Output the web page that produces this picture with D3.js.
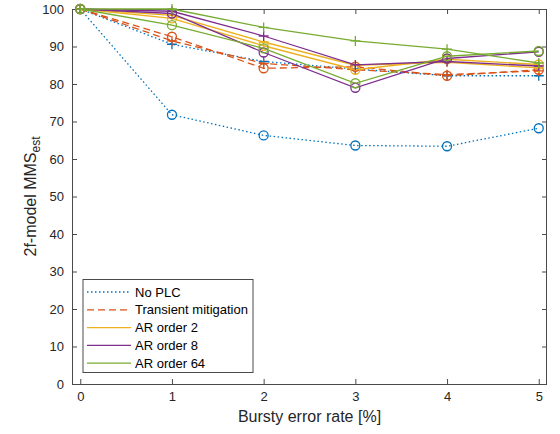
<!DOCTYPE html>
<html><head><meta charset="utf-8">
<script src="https://cdn.jsdelivr.net/npm/d3@7/dist/d3.min.js"></script>
<style>body{margin:0;background:#fff}svg{display:block;font-family:"Liberation Sans",Arial,sans-serif}</style>
</head><body><svg id="c" width="560" height="434"></svg>
<script>
const rates = [0, 1, 2, 3, 4, 5];
const xTicks = [0, 1, 2, 3, 4, 5];
const yTicks = [0, 10, 20, 30, 40, 50, 60, 70, 80, 90, 100];
const legendNames = ["No PLC", "Transient mitigation", "AR order 2", "AR order 8", "AR order 64"];
const noPLC_o = [100, 71.8, 66.3, 63.6, 63.4, 68.2];
const noPLC_p = [100, 90.6, 86.0, 84.0, 82.2, 82.2];
const trans_o = [100, 92.6, 84.2, 84.6, 82.2, 83.8];
const trans_p = [100, 91.5, 85.5, 83.8, 82.5, 83.5];
const ar2_o = [100, 97.5, 90.2, 83.8, 86.6, 85.2];
const ar2_p = [100, 98.3, 91.2, 85.0, 85.8, 84.3];
const ar8_o = [100, 98.8, 88.4, 79.0, 86.8, 88.6];
const ar8_p = [100, 99.4, 92.8, 85.1, 86.0, 84.8];
const ar64_o = [100, 95.7, 89.5, 80.2, 87.4, 88.8];
const ar64_p = [100, 100, 95.1, 91.5, 89.3, 85.6];

const colors = ["#0072BD", "#D95319", "#EDB120", "#7E2F8E", "#77AC30"];
const dashes = ["1.5,2.5", "7,4", null, null, null];
const series = [
  {v: noPLC_p, k: 0, m: "+"}, {v: noPLC_o, k: 0, m: "o"},
  {v: trans_p, k: 1, m: "+"}, {v: trans_o, k: 1, m: "o"},
  {v: ar2_p, k: 2, m: "+"}, {v: ar2_o, k: 2, m: "o"},
  {v: ar8_p, k: 3, m: "+"}, {v: ar8_o, k: 3, m: "o"},
  {v: ar64_p, k: 4, m: "+"}, {v: ar64_o, k: 4, m: "o"}
];

const L = 72, R = 547, T = 9, B = 384;
const svg = d3.select("#c");
const x = d3.scaleLinear().domain([-0.09, 5.09]).range([L, R]);
const y = d3.scaleLinear().domain([0, 100]).range([B, T]);
const ax = "#4a4a4a";

svg.append("rect").attr("x", L).attr("y", T).attr("width", R - L).attr("height", B - T)
  .attr("fill", "#fff");

const tl = 5;
const gx = svg.append("g").attr("transform", `translate(0,${B})`)
  .call(d3.axisBottom(x).tickValues(xTicks).tickSize(-tl).tickPadding(8).tickFormat(d3.format("d")));
const gxt = svg.append("g").attr("transform", `translate(0,${T})`)
  .call(d3.axisTop(x).tickValues(xTicks).tickSize(-tl).tickFormat(""));
const gy = svg.append("g").attr("transform", `translate(${L},0)`)
  .call(d3.axisLeft(y).tickValues(yTicks).tickSize(-tl).tickPadding(8).tickFormat(d3.format("d")));
const gyr = svg.append("g").attr("transform", `translate(${R},0)`)
  .call(d3.axisRight(y).tickValues(yTicks).tickSize(-tl).tickFormat(""));
[gx, gxt, gy, gyr].forEach(g => {
  g.select(".domain").attr("stroke", ax).attr("stroke-width", 1);
  g.selectAll(".tick line").attr("stroke", ax);
  g.selectAll("text").attr("fill", "#262626").style("font-size", "13px").style("font-family", '"Liberation Sans",Arial,sans-serif');
});
gx.select(".domain").attr("d", `M${L},0.5H${R}`);
gxt.select(".domain").attr("d", `M${L},0.5H${R}`);
gy.select(".domain").attr("d", `M0.5,${T}V${B}`);
gyr.select(".domain").attr("d", `M-0.5,${T}V${B}`);

const line = d3.line().x((d, i) => x(rates[i])).y(d => y(d));
const plot = svg.append("g");
series.forEach(s => {
  const c = colors[s.k];
  plot.append("path").attr("d", line(s.v)).attr("fill", "none").attr("stroke", c)
    .attr("stroke-width", 1.3).attr("stroke-dasharray", dashes[s.k]);
  s.v.forEach((d, i) => {
    const cx = x(rates[i]), cy = y(d);
    if (s.m === "o") {
      plot.append("circle").attr("cx", cx).attr("cy", cy).attr("r", 4.5)
        .attr("fill", "none").attr("stroke", c).attr("stroke-width", 1.3);
    } else {
      plot.append("path").attr("d", `M${cx - 5},${cy}H${cx + 5}M${cx},${cy - 5}V${cy + 5}`)
        .attr("stroke", c).attr("stroke-width", 1.3);
    }
  });
});

// axis labels
svg.append("text").attr("x", (L + R) / 2).attr("y", 422).attr("text-anchor", "middle")
  .attr("fill", "#262626").style("font-size", "16px").text("Bursty error rate [%]");
const yl = svg.append("text").attr("transform", `translate(36,${(T + B) / 2}) rotate(-90)`)
  .attr("text-anchor", "middle").attr("fill", "#262626").style("font-size", "16px");
yl.append("tspan").text("2f-model MMS");
yl.append("tspan").attr("dy", 4).style("font-size", "12px").text("est");

// legend
const lg = svg.append("g");
lg.append("rect").attr("x", 83).attr("y", 279.5).attr("width", 170).attr("height", 93)
  .attr("fill", "#fff").attr("stroke", ax).attr("stroke-width", 1);
legendNames.forEach((n, i) => {
  const ly = 292 + i * 17.8;
  lg.append("line").attr("x1", 87).attr("x2", 131).attr("y1", ly).attr("y2", ly)
    .attr("stroke", colors[i]).attr("stroke-width", 1.3).attr("stroke-dasharray", dashes[i]);
  lg.append("text").attr("x", 135).attr("y", ly + 4.5).attr("fill", "#000")
    .style("font-size", "13px").text(n);
});
</script></body></html>
